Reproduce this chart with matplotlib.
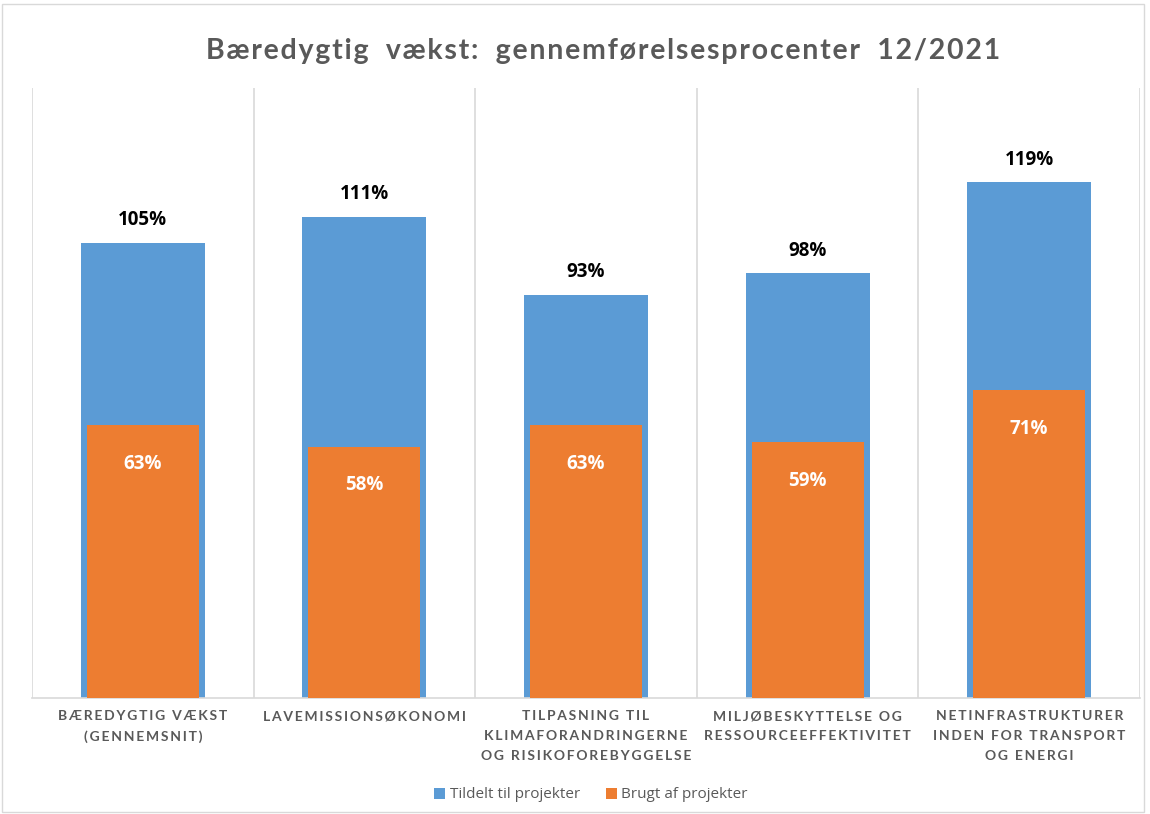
import matplotlib
matplotlib.use("Agg")
import matplotlib.pyplot as plt
import numpy as np
from matplotlib.patches import Rectangle

categories = [
    "BÆREDYGTIG VÆKST\n(GENNEMSNIT)",
    "LAVEMISSIONSØKONOMI",
    "TILPASNING TIL\nKLIMAFORANDRINGERNE\nOG RISIKOFOREBYGGELSE",
    "MILJØBESKYTTELSE OG\nRESSOURCEEFFEKTIVITET",
    "NETINFRASTRUKTURER\nINDEN FOR TRANSPORT\nOG ENERGI",
]
tildelt = [105, 111, 93, 98, 119]
brugt = [63, 58, 63, 59, 71]
series_names = ["Tildelt til projekter", "Brugt af projekter"]
title = "Bæredygtig vækst: gennemførelsesprocenter 12/2021"

BLUE = "#5B9BD5"
ORANGE = "#ED7D31"
GRAY = "#595959"

plt.rcParams['font.family'] = ['Lato', 'DejaVu Sans']

fig = plt.figure(figsize=(11.5, 8.14), dpi=100)
ax = fig.add_axes([32/1150, 1-698/814, (1140-32)/1150, (698-88)/814])

x = np.arange(len(categories))
b1 = ax.bar(x, tildelt, width=0.56, color=BLUE, label=series_names[0], zorder=2)
b2 = ax.bar(x, brugt, width=0.505, color=ORANGE, label=series_names[1], zorder=3)

for xi, v in zip(x, tildelt):
    ax.annotate(f"{v}%", (xi, v), xytext=(0, 9), textcoords="offset points",
                ha="center", va="bottom", fontsize=13.5, fontweight="bold", color="black",
                family=['Open Sans', 'DejaVu Sans'])
for xi, v in zip(x, brugt):
    ax.annotate(f"{v}%", (xi, v), xytext=(0, -28), textcoords="offset points",
                ha="center", va="center", fontsize=13.5, fontweight="bold", color="white",
                family=['Open Sans', 'DejaVu Sans'])

ax.set_xlim(-0.5, len(categories) - 0.5)
ax.set_ylim(0, 140.7)
ax.set_yticks([])
ax.set_xticks(x)

def spaced(s, sep="\u2009"):
    return "\n".join(sep.join(list(line)) for line in s.split("\n"))

ax.set_xticklabels([spaced(c) for c in categories], fontsize=10, color=GRAY,
                   fontweight="bold")
for lbl in ax.get_xticklabels():
    lbl.set_linespacing(1.75)
ax.tick_params(axis="x", length=0, pad=9)

ax.set_xticks(np.arange(-0.5, len(categories)), minor=True)
ax.tick_params(axis="x", which="minor", length=0)
ax.grid(True, which="minor", axis="x", color="#D9D9D9", linewidth=1.2, zorder=0)
ax.grid(False, which="major")

for s in ["top", "right", "left"]:
    ax.spines[s].set_visible(False)
ax.spines["bottom"].set_color("#D9D9D9")
ax.spines["bottom"].set_linewidth(1.2)

fig.text(603/1150, 1-51/814, spaced(title, "\u200a").replace(" \u200a", "  \u200a"),
         ha="center", va="center", fontsize=20.5, fontweight="bold", color=GRAY)

leg = fig.legend(handles=[b1, b2], labels=series_names, loc="center",
                 bbox_to_anchor=(591/1150, 1-795/814), ncol=2, frameon=False,
                 handlelength=0.7, handleheight=0.7,
                 handletextpad=0.3, columnspacing=1.7,
                 prop={'family': ['Open Sans', 'DejaVu Sans'], 'size': 11})
for t in leg.get_texts():
    t.set_color(GRAY)

fig.patches.append(Rectangle((0.002, 0.002), 0.993, 0.993, transform=fig.transFigure,
                             fill=False, edgecolor="#D9D9D9", linewidth=1))

fig.savefig("out.png", dpi=100)
